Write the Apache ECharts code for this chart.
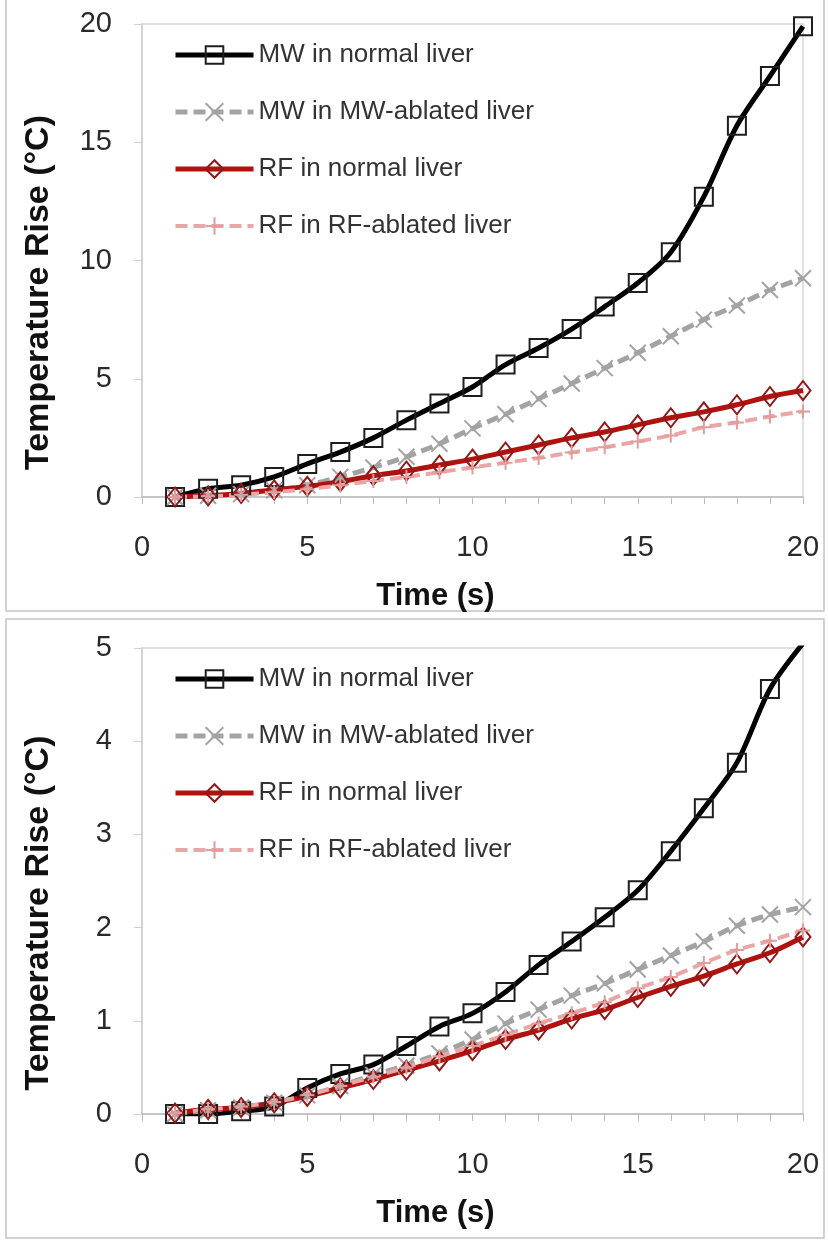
<!DOCTYPE html>
<html lang="en">
<head>
<meta charset="UTF-8">
<title>Temperature rise vs time</title>
<style>
    html, body { margin: 0; padding: 0; background: #fff; }
    #chart { width: 828px; height: 1241px; }
</style>
<script src="https://cdn.jsdelivr.net/npm/echarts@6/dist/echarts.min.js"></script>
</head>
<body>
<div id="chart"></div>
<script>
// time points (s)
var timeS = [1, 2, 3, 4, 5, 6, 7, 8, 9, 10, 11, 12, 13, 14, 15, 16, 17, 18, 19, 20];
var seriesNames = ['MW in normal liver', 'MW in MW-ablated liver', 'RF in normal liver', 'RF in RF-ablated liver'];

// upper panel (0-20 °C)
var topMwNormal  = [0, 0.35, 0.5, 0.85, 1.4, 1.9, 2.5, 3.25, 3.95, 4.65, 5.6, 6.3, 7.1, 8.05, 9.05, 10.35, 12.7, 15.7, 17.8, 19.9];
var topMwAblated = [0, 0.05, 0.12, 0.28, 0.5, 0.85, 1.25, 1.7, 2.25, 2.9, 3.5, 4.15, 4.8, 5.45, 6.1, 6.8, 7.5, 8.1, 8.75, 9.25];
var topRfNormal  = [0, 0.05, 0.15, 0.3, 0.45, 0.65, 0.9, 1.1, 1.35, 1.6, 1.9, 2.2, 2.5, 2.75, 3.05, 3.35, 3.6, 3.9, 4.25, 4.5];
var topRfAblated = [0, 0.03, 0.1, 0.2, 0.33, 0.5, 0.68, 0.85, 1.05, 1.25, 1.45, 1.65, 1.88, 2.1, 2.35, 2.6, 2.95, 3.15, 3.4, 3.62];

// lower panel (0-5 °C)
var botMwNormal  = [0, 0, 0.03, 0.08, 0.28, 0.43, 0.53, 0.73, 0.94, 1.08, 1.31, 1.6, 1.85, 2.11, 2.4, 2.82, 3.28, 3.77, 4.56, 5.05];
var botMwAblated = [0, 0.04, 0.07, 0.12, 0.2, 0.3, 0.42, 0.52, 0.65, 0.8, 0.97, 1.12, 1.27, 1.4, 1.55, 1.7, 1.85, 2.02, 2.14, 2.22];
var botRfNormal  = [0.01, 0.05, 0.07, 0.12, 0.19, 0.28, 0.37, 0.47, 0.57, 0.68, 0.8, 0.9, 1.02, 1.12, 1.25, 1.37, 1.48, 1.61, 1.73, 1.9];
var botRfAblated = [0.01, 0.05, 0.08, 0.13, 0.2, 0.3, 0.4, 0.5, 0.62, 0.73, 0.85, 0.97, 1.08, 1.2, 1.35, 1.47, 1.62, 1.76, 1.86, 1.97];

var FONT = "'Liberation Sans', Arial, sans-serif";

// look of each of the 4 series
var looks = [
    {symbol: 'rect', size: 18, color: '#000', width: 5, dash: 'solid', stroke: '#1e1e1e'},
    {symbol: 'path://M0,0L10,10M10,0L0,10', size: 16, color: '#a3a3a3', width: 5, dash: [12, 6], stroke: '#a3a3a3'},
    {symbol: 'diamond', size: [15, 19], color: '#b0120e', width: 5, dash: 'solid', stroke: '#8e1a1a'},
    {symbol: 'path://M5,0L5,10M0,5L10,5', size: 14, color: '#eaa6a6', width: 4, dash: [12, 6], stroke: '#e29c9c'}
];

function makeLine(k, vals, idx) {
    var lk = looks[k];
    return {
        name: seriesNames[k],
        type: 'line',
        xAxisIndex: idx,
        yAxisIndex: idx,
        data: timeS.map(function (t, i) { return [t, vals[i]]; }),
        smooth: 0.3,
        symbol: lk.symbol,
        symbolSize: lk.size,
        clip: true,
        lineStyle: {color: lk.color, width: lk.width, type: lk.dash},
        itemStyle: {color: 'rgba(255,255,255,0)', borderColor: lk.stroke, borderWidth: 2}
    };
}

function xAxisFor(idx) {
    return {
        type: 'value', gridIndex: idx, min: 0, max: 20, interval: 5,
        name: 'Time (s)', nameLocation: 'middle', nameGap: 84,
        nameTextStyle: {fontFamily: FONT, fontSize: 31, fontWeight: 'bold', color: '#111', padding: [0, 74, 0, 0]},
        axisLine: {lineStyle: {color: '#bcbcbc', width: 1.5}},
        axisTick: {show: true, length: 7, lineStyle: {color: '#bcbcbc'}},
        minorTick: {show: true, splitNumber: 5, length: 7, lineStyle: {color: '#bcbcbc'}},
        axisLabel: {fontFamily: FONT, fontSize: 29, color: '#2a2a2a', margin: 36},
        splitLine: {show: false}
    };
}

function yAxisFor(idx, max, step) {
    return {
        type: 'value', gridIndex: idx, min: 0, max: max, interval: step,
        name: 'Temperature Rise (°C)', nameLocation: 'middle', nameGap: 86,
        nameTextStyle: {fontFamily: FONT, fontSize: 34, fontWeight: 'bold', color: '#111', padding: [0, 64, 0, 0]},
        axisLine: {show: true, lineStyle: {color: '#cfcfcf', width: 1.5}},
        axisTick: {show: true, length: 8, lineStyle: {color: '#cfcfcf'}},
        axisLabel: {fontFamily: FONT, fontSize: 29, color: '#2a2a2a', margin: 30},
        splitLine: {show: false}
    };
}

function legendFor(top) {
    return {
        data: seriesNames.map(function (n, k) {
            return {name: n, lineStyle: {width: looks[k].width, type: looks[k].dash, color: looks[k].color}};
        }),
        orient: 'vertical',
        left: 173,
        top: top,
        padding: 0,
        itemWidth: 78,
        itemHeight: 22,
        itemGap: 31,
        selectedMode: false,
        textStyle: {fontFamily: FONT, fontSize: 26, color: '#333'}
    };
}

var myChart = echarts.init(document.getElementById('chart'));
var option = {
    animation: false,
    backgroundColor: '#fff',
    graphic: [
        {type: 'rect', shape: {x: 6, y: -2, width: 818, height: 613}, style: {fill: 'none', stroke: '#c4c4c4', lineWidth: 1.5}, silent: true},
        {type: 'rect', shape: {x: 6, y: 619, width: 818, height: 619}, style: {fill: 'none', stroke: '#c4c4c4', lineWidth: 1.5}, silent: true}
    ],
    grid: [
        {left: 142, right: 25, top: 24, height: 473, show: true, borderColor: '#d6d6d6', borderWidth: 1.5},
        {left: 142, right: 25, top: 648, height: 466, show: true, borderColor: '#d6d6d6', borderWidth: 1.5}
    ],
    legend: [legendFor(42), legendFor(666)],
    xAxis: [xAxisFor(0), xAxisFor(1)],
    yAxis: [yAxisFor(0, 20, 5), yAxisFor(1, 5, 1)],
    series: [
        makeLine(0, topMwNormal, 0),
        makeLine(1, topMwAblated, 0),
        makeLine(2, topRfNormal, 0),
        makeLine(3, topRfAblated, 0),
        makeLine(0, botMwNormal, 1),
        makeLine(1, botMwAblated, 1),
        makeLine(2, botRfNormal, 1),
        makeLine(3, botRfAblated, 1)
    ]
};
myChart.setOption(option);
</script>
</body>
</html>
